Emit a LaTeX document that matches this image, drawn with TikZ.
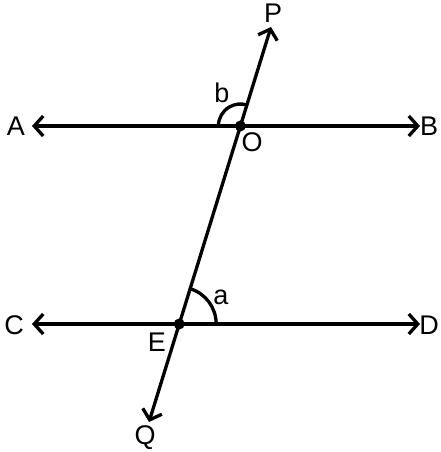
\documentclass[tikz,border=0pt]{standalone}
\usepackage{fontspec}
\setmainfont{Liberation Sans}
\usetikzlibrary{arrows.meta}
\usetikzlibrary{calc}
\def\thickness{3.3pt}
\tikzset{line/.style={line width=\thickness, arrows={Straight Barb[length=9pt,width=20pt,line width=\thickness]-Straight Barb[length=9pt,width=20pt,line width=\thickness]}}}
\tikzset{ray/.style={line width=\thickness, -{Straight Barb[length=9pt,width=20pt,line width=\thickness]}}}
\tikzset{lbl/.style={inner sep=0pt, font=\fontsize{27}{27}\selectfont}}
\tikzset{dot/.style={circle, fill, inner sep=0pt, minimum size=11pt}}
\tikzset{anglearc/.style={line width=\thickness}}

\begin{document}
\begin{tikzpicture}[x=1pt, y=-1pt]
\useasboundingbox (0,0) rectangle (440,452);
\coordinate (A) at (32,126);
\coordinate (B) at (420,126);
\coordinate (C) at (32,324);
\coordinate (D) at (420,324);
\coordinate (P) at (271,27);
\coordinate (Q) at (149,422);
\node (O) [dot] at (240.4,126) {};
\node (E) [dot] at (179.2,324) {};

\draw[line] (A) -- (B);
\draw[line] (C) -- (D);
\draw[ray] (O.center) -- (P);
\draw[ray] (O.center) -- (Q);

% angles
\draw[anglearc] ($(O.center)+(-22,0)$) arc[start angle=180, end angle=287.2, radius=22];
\draw[anglearc] ($(E.center)+(37,0)$) arc[start angle=0, end angle=-72.8, radius=37];

\node[lbl] at (16,126) {A};
\node[lbl] at (429,126) {B};
\node[lbl] at (14,325) {C};
\node[lbl] at (429,325) {D};
\node[lbl] at (273,13) {P};
\node[lbl] at (145,438) {Q};
\node[lbl] at (252,142) {O};
\node[lbl] at (157,342) {E};
\node[lbl] at (222,93) {b};
\node[lbl] at (221,297) {a};
\end{tikzpicture}
\end{document}
